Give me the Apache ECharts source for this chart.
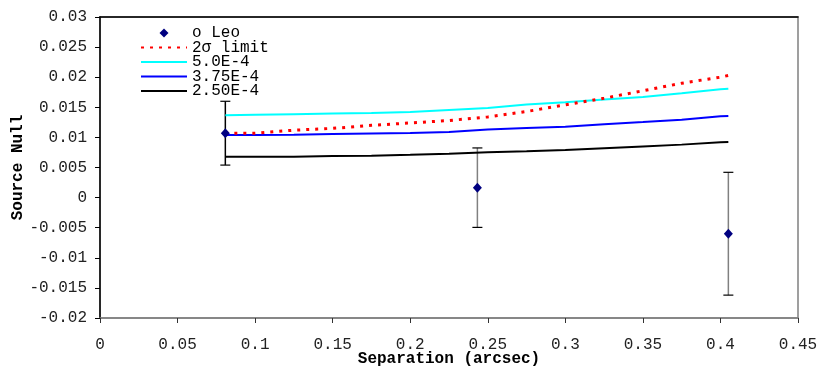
<!DOCTYPE html>
<html>
<head>
<meta charset="utf-8">
<script src="https://cdn.jsdelivr.net/npm/echarts@6/dist/echarts.min.js"></script>
<style>html,body{margin:0;padding:0;background:#fff}#c{width:830px;height:382px}</style>
</head>
<body>
<div id="c"></div>
<script>
// Observed points (o Leo)
var obsX = [0.0808, 0.2433, 0.4051];
var obsY = [0.0107, 0.00165, -0.0060];
var obsErr = [0.0053, 0.0066, 0.0102];

// Model curve sample positions
var curveX = [0.0808, 0.1, 0.125, 0.15, 0.175, 0.2, 0.225, 0.25, 0.275, 0.3, 0.325, 0.35, 0.375, 0.4, 0.4051];
var limit2s = [0.0107, 0.0107, 0.0112, 0.0115, 0.0120, 0.0124, 0.0128, 0.0134, 0.0143, 0.0154, 0.0165, 0.01775, 0.0190, 0.0200, 0.0203];
var c50 = [0.01366, 0.01375, 0.01385, 0.01395, 0.01405, 0.0142, 0.01455, 0.0149, 0.01545, 0.01583, 0.01628, 0.01673, 0.01735, 0.01798, 0.01807];
var c375 = [0.0104, 0.0104, 0.01042, 0.01055, 0.01065, 0.01075, 0.0109, 0.0113, 0.01155, 0.01178, 0.0122, 0.01255, 0.01295, 0.0135, 0.01357];
var c250 = [0.0068, 0.0068, 0.0068, 0.0069, 0.00696, 0.0071, 0.0073, 0.00755, 0.00768, 0.0079, 0.0082, 0.0085, 0.0088, 0.0092, 0.00925];

var seriesNames = ['o Leo', '2\u03c3 limit', '5.0E-4', '3.75E-4', '2.50E-4'];
var xTitle = 'Separation (arcsec)';
var yTitle = 'Source Null';

function pairs(xs, ys) { return xs.map(function (x, i) { return [x, ys[i]]; }); }

var FONT = '"Liberation Mono", "Courier New", monospace';
var NOFILL = 'rgba(0,0,0,0)';
var chart = echarts.init(document.getElementById('c'), null, {renderer: 'canvas'});

chart.setOption({
  animation: false,
  grid: {left: 100, right: 32, top: 17, bottom: 64, show: true, borderColor: '#808080', borderWidth: 1.5, backgroundColor: 'transparent', outerBoundsMode: 'none', containLabel: false},
  legend: {
    left: 135, top: 20, orient: 'vertical', itemWidth: 46, itemHeight: 9, itemGap: -1.5,
    textStyle: {fontFamily: FONT, fontSize: 16, color: '#000'},
    data: [
      {name: seriesNames[0], icon: 'path://M0,-1L1,0L0,1L-1,0Z'},
      {name: seriesNames[1]}, {name: seriesNames[2]}, {name: seriesNames[3]}, {name: seriesNames[4]}
    ]
  },
  xAxis: [{
    type: 'value', min: 0, max: 0.45, interval: 0.05,
    name: xTitle, nameLocation: 'middle', nameGap: 33, nameMoveOverlap: false,
    nameTextStyle: {fontFamily: FONT, fontSize: 16, fontWeight: 'bold', color: '#000'},
    axisLine: {show: true, onZero: false, lineStyle: {color: '#808080', width: 1.5}},
    axisTick: {show: true, length: 5, lineStyle: {color: '#333'}},
    axisLabel: {fontFamily: FONT, fontSize: 16, color: '#222', margin: 19, formatter: function (v) { return String(+v.toFixed(2)); }},
    splitLine: {show: false}
  }, {
    type: 'value', position: 'top', min: 0, max: 0.45,
    axisLine: {show: true, onZero: false, lineStyle: {color: '#000', width: 1.5}},
    axisTick: {show: false}, axisLabel: {show: false}, splitLine: {show: false}
  }],
  yAxis: {
    type: 'value', min: -0.02, max: 0.03, interval: 0.005,
    name: yTitle, nameLocation: 'middle', nameGap: 74, nameRotate: 90, nameMoveOverlap: false,
    nameTextStyle: {fontFamily: FONT, fontSize: 16, fontWeight: 'bold', color: '#000'},
    axisLine: {show: true, onZero: false, lineStyle: {color: '#000', width: 1.5}},
    axisTick: {show: true, length: 5, lineStyle: {color: '#000'}},
    axisLabel: {fontFamily: FONT, fontSize: 16, color: '#222', margin: 13, formatter: function (v) { return String(+v.toFixed(3)); }},
    splitLine: {show: false}
  },
  series: [
    {name: seriesNames[2], type: 'line', data: pairs(curveX, c50), symbol: 'none', lineStyle: {color: '#00FFFF', width: 2}, itemStyle: {color: NOFILL}},
    {name: seriesNames[3], type: 'line', data: pairs(curveX, c375), symbol: 'none', lineStyle: {color: '#0000FF', width: 2}, itemStyle: {color: NOFILL}},
    {name: seriesNames[4], type: 'line', data: pairs(curveX, c250), symbol: 'none', lineStyle: {color: '#000000', width: 2}, itemStyle: {color: NOFILL}},
    {name: seriesNames[1], type: 'line', data: pairs(curveX, limit2s), symbol: 'none', lineStyle: {color: '#FF0000', width: 3, type: [3, 6]}, itemStyle: {color: NOFILL}},
    {
      name: 'err', type: 'custom',
      data: obsX.map(function (x, i) { return [x, obsY[i] - obsErr[i], obsY[i] + obsErr[i]]; }),
      encode: {x: 0, y: [1, 2]},
      renderItem: function (params, api) {
        var lo = api.coord([api.value(0), api.value(1)]);
        var hi = api.coord([api.value(0), api.value(2)]);
        var w = 5;
        return {type: 'group', children: [
          {type: 'line', shape: {x1: lo[0], y1: lo[1], x2: hi[0], y2: hi[1]}, style: {stroke: params.dataIndex === 0 ? '#000' : '#808080', lineWidth: 1.5}},
          {type: 'line', shape: {x1: lo[0] - w, y1: lo[1], x2: lo[0] + w, y2: lo[1]}, style: {stroke: '#000', lineWidth: 1.2}},
          {type: 'line', shape: {x1: hi[0] - w, y1: hi[1], x2: hi[0] + w, y2: hi[1]}, style: {stroke: '#000', lineWidth: 1.2}}
        ]};
      },
      z: 3
    },
    {name: seriesNames[0], type: 'scatter', data: pairs(obsX, obsY), symbol: 'diamond', symbolSize: [9, 10], itemStyle: {color: '#000080', opacity: 1}, z: 4}
  ]
});
</script>
</body>
</html>
